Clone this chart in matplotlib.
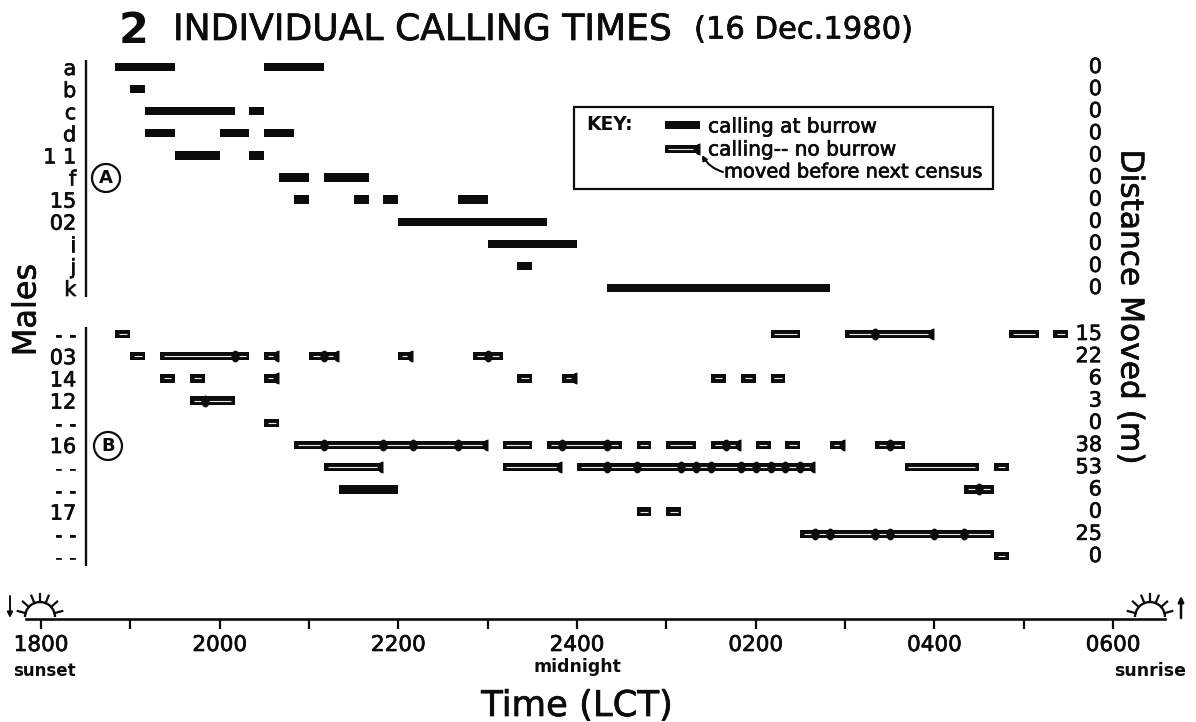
import numpy as np
import matplotlib
matplotlib.use('Agg')
import matplotlib.pyplot as plt
from matplotlib.patches import Arc, Circle, Rectangle, FancyArrowPatch
from matplotlib.path import Path
from matplotlib.text import Text
import matplotlib.patheffects as pe

W, H = 1196, 722
INK = '#0c0c0c'

# all times are minutes after 1800, censuses every 10 min
top_labels = ['a', 'b', 'c', 'd', '1 1', 'f', '15', '02', 'i', 'j', 'k']
top_moved = [0, 0, 0, 0, 0, 0, 0, 0, 0, 0, 0]
top_spans = [
    [(50, 90), (150, 190)],
    [(60, 70)],
    [(70, 130), (140, 150)],
    [(70, 90), (120, 140), (150, 170)],
    [(90, 120), (140, 150)],
    [(160, 180), (190, 220)],
    [(170, 180), (210, 220), (230, 240), (280, 300)],
    [(240, 340)],
    [(300, 360)],
    [(320, 330)],
    [(380, 530)],
]

low_labels = ['- -', '03', '14', '12', '- -', '16', '- -', '- -', '17', '- -', '- -']
low_moved = [15, 22, 6, 3, 0, 38, 53, 6, 0, 25, 0]
low_spans = [
    [(50, 60), (490, 510), (540, 600), (650, 670), (680, 690)],
    [(60, 70), (80, 140), (150, 160), (180, 200), (240, 250), (290, 310)],
    [(80, 90), (100, 110), (150, 160), (320, 330), (350, 360), (450, 460), (470, 480), (490, 500)],
    [(100, 130)],
    [(150, 160)],
    [(170, 300), (310, 330), (340, 390), (400, 410), (420, 440), (450, 470),
     (480, 490), (500, 510), (530, 540), (560, 580)],
    [(190, 230), (310, 350), (360, 520), (580, 630), (640, 650)],
    [(620, 640)],
    [(400, 410), (420, 430)],
    [(510, 640)],
    [(640, 650)],
]
low_solid = [[], [], [], [], [], [], [], [(200, 240)], [], [], []]
# census points inside a bar
low_dots = [
    [560],
    [130, 190, 300],
    [],
    [110],
    [],
    [190, 230, 250, 280, 350, 380, 460, 570],
    [380, 400, 430, 440, 450, 470, 480, 490, 500, 510],
    [630],
    [],
    [520, 530, 560, 570, 600, 620],
    [],
]
# moved before next census, mark sits at the bar end
low_ends = [
    [600],
    [160, 200, 250],
    [160, 360],
    [],
    [],
    [300, 470, 540],
    [230, 350, 520],
    [],
    [],
    [],
    [],
]

hours = ['1800', '', '2000', '', '2200', '', '2400', '', '0200', '', '0400', '', '0600']
hour_ticks = [i * 60 for i in range(13)]

# rows sit on a gappy grid, second block starts lower
top_rows = list(range(11))
low_rows = [12.08 + i * 1.005 for i in range(11)]

# tall oval marks, and the half oval for bar ends
circ = Path.unit_circle()
oval = Path(circ.vertices * [0.7, 1.0], circ.codes)
half_t = np.linspace(np.pi / 2, 3 * np.pi / 2, 20)
half_oval = Path(np.column_stack([np.cos(half_t) * 1.0, np.sin(half_t)]))


def xmin(px):
    return (px - 41) / 14.889 * 10


fig = plt.figure(figsize=(W / 100, H / 100), dpi=100, facecolor='white')
plt.rcParams['font.family'] = ['DejaVu Sans']

# px overlay for lettering and the little suns
over = fig.add_axes([0, 0, 1, 1])
over.set_xlim(0, W)
over.set_ylim(H, 0)
over.axis('off')

ax = fig.add_axes([26 / W, 1 - 619 / H, (1165 - 26) / W, (619 - 40) / H])
ax.patch.set_alpha(0)
ax.set_xlim(xmin(26), xmin(1165))
ax.set_ylim((619 - 67) / 22.1, (40 - 67) / 22.1)

for s in ['top', 'right']:
    ax.spines[s].set_visible(False)
ax.spines['bottom'].set_linewidth(1.9)
ax.spines['bottom'].set_color(INK)
ax.spines['left'].set_position(('data', xmin(86)))
ax.spines['left'].set_visible(False)

ax.set_xticks(hour_ticks, hours, fontsize=15.5, color=INK)
ax.tick_params(axis='x', length=7.5, width=1.6, color=INK, pad=4)
ax.set_yticks(top_rows + low_rows, top_labels + low_labels, fontsize=15, color=INK)
ax.tick_params(axis='y', length=0, pad=7)

# axis lines of the two blocks
ax.vlines(xmin(86), -0.32, 10.4, color=INK, lw=1.7)
ax.vlines(xmin(86), 11.77, 22.6, color=INK, lw=1.7)


def draw_solid(row, spans):
    for a, b in spans:
        ax.barh(row, b - a, left=a, height=0.38, color=INK, linewidth=0)


def draw_open(row, spans):
    for a, b in spans:
        ax.barh(row, b - a, left=a, height=0.38, color=INK, linewidth=0)
        ax.hlines(row, a + 2.5, b - 2.5, color='#e8e8e8', lw=0.8, zorder=3)


for r, sp in zip(top_rows, top_spans):
    draw_solid(r, sp)
for r, sp, so, dots, ends in zip(low_rows, low_spans, low_solid, low_dots, low_ends):
    draw_open(r, sp)
    draw_solid(r, so)
    ax.plot(dots, [r] * len(dots), ls='none', marker=oval, ms=8.5, mew=0, color=INK, zorder=4)
    ax.plot(ends, [r] * len(ends), ls='none', marker=half_oval, ms=8.5, mew=0, color=INK, zorder=4)

for r, m in zip(top_rows + low_rows, top_moved + low_moved):
    ax.text(xmin(1102), r, str(m), ha='right', va='center', fontsize=15, color=INK)

# title
over.text(119, 31, '2', fontsize=31, fontweight='bold', ha='left', va='center', color=INK)
over.text(173, 30, 'INDIVIDUAL CALLING TIMES', fontsize=26, ha='left', va='center', color=INK)
over.text(694, 30, '(16 Dec.1980)', fontsize=22, ha='left', va='center', color=INK)

# axis titles
over.text(27, 310, 'Males', fontsize=23, rotation=90, ha='center', va='center', color=INK)
over.text(1130, 307, 'Distance Moved (m)', fontsize=22.5, rotation=270, ha='center', va='center', color=INK)
over.text(577, 706, 'Time (LCT)', fontsize=25.5, ha='center', va='center', color=INK)
over.text(44, 671, 'sunset', fontsize=12, fontweight='bold', ha='center', va='center', color=INK)
over.text(577, 667, 'midnight', fontsize=12.5, fontweight='bold', ha='center', va='center', color=INK)
over.text(1150, 671, 'sunrise', fontsize=12.5, fontweight='bold', ha='center', va='center', color=INK)

# A / B circles
for cx, cy, let in [(106, 178, 'A'), (108, 446, 'B')]:
    over.add_patch(Circle((cx, cy), 14, fill=False, ec=INK, lw=1.6))
    over.text(cx, cy, let, fontsize=13, fontweight='bold', ha='center', va='center', color=INK)

# key box
over.add_patch(Rectangle((574, 107), 419, 82, fill=False, ec=INK, lw=1.6))
over.text(586, 125, 'KEY:', fontsize=13.5, fontweight='bold', ha='left', va='center', color=INK)
over.add_patch(Rectangle((665, 121), 35, 8, fc=INK, ec='none'))
over.add_patch(Rectangle((665, 145), 34, 8, fc=INK, ec='none'))
over.hlines(149, 668, 693, color='#e8e8e8', lw=0.8, zorder=3)
over.plot([700], [149], marker=half_oval, ms=8.5, mew=0, color=INK, zorder=4)
over.text(708, 127, 'calling at burrow', fontsize=14.5, ha='left', va='center', color=INK)
over.text(708, 150, 'calling-- no burrow', fontsize=14.5, ha='left', va='center', color=INK)
over.text(724, 172, 'moved before next census', fontsize=14, ha='left', va='center', color=INK)
over.add_patch(FancyArrowPatch((723, 172), (702, 155), arrowstyle='-|>', mutation_scale=7,
                               connectionstyle='arc3,rad=-0.2', color=INK, lw=1.5,
                               shrinkA=0, shrinkB=0))

# sunset and sunrise
for cx in [40, 1150]:
    over.add_patch(Arc((cx, 617), 30, 30, theta1=180, theta2=360, ec=INK, lw=1.7))
    for deg in [195, 222, 248, 270, 292, 318, 345]:
        t = np.deg2rad(deg)
        over.plot([cx + 15 * np.cos(t), cx + 23 * np.cos(t)],
                  [617 + 15 * np.sin(t), 617 + 23 * np.sin(t)], color=INK, lw=1.6)
over.add_patch(FancyArrowPatch((10, 596), (10, 618), arrowstyle='-|>', mutation_scale=8,
                               color=INK, lw=1.4, shrinkA=0, shrinkB=0))
over.add_patch(FancyArrowPatch((1181, 618), (1181, 596), arrowstyle='-|>', mutation_scale=8,
                               color=INK, lw=1.8, shrinkA=0, shrinkB=0))

# lettering in the original is heavier than regular weight, bold is heavy enough
for t in fig.findobj(Text):
    if t.get_fontweight() != 'bold':
        t.set_path_effects([pe.withStroke(linewidth=0.5, foreground=INK)])

fig.savefig('out.png', dpi=100, facecolor='white')
